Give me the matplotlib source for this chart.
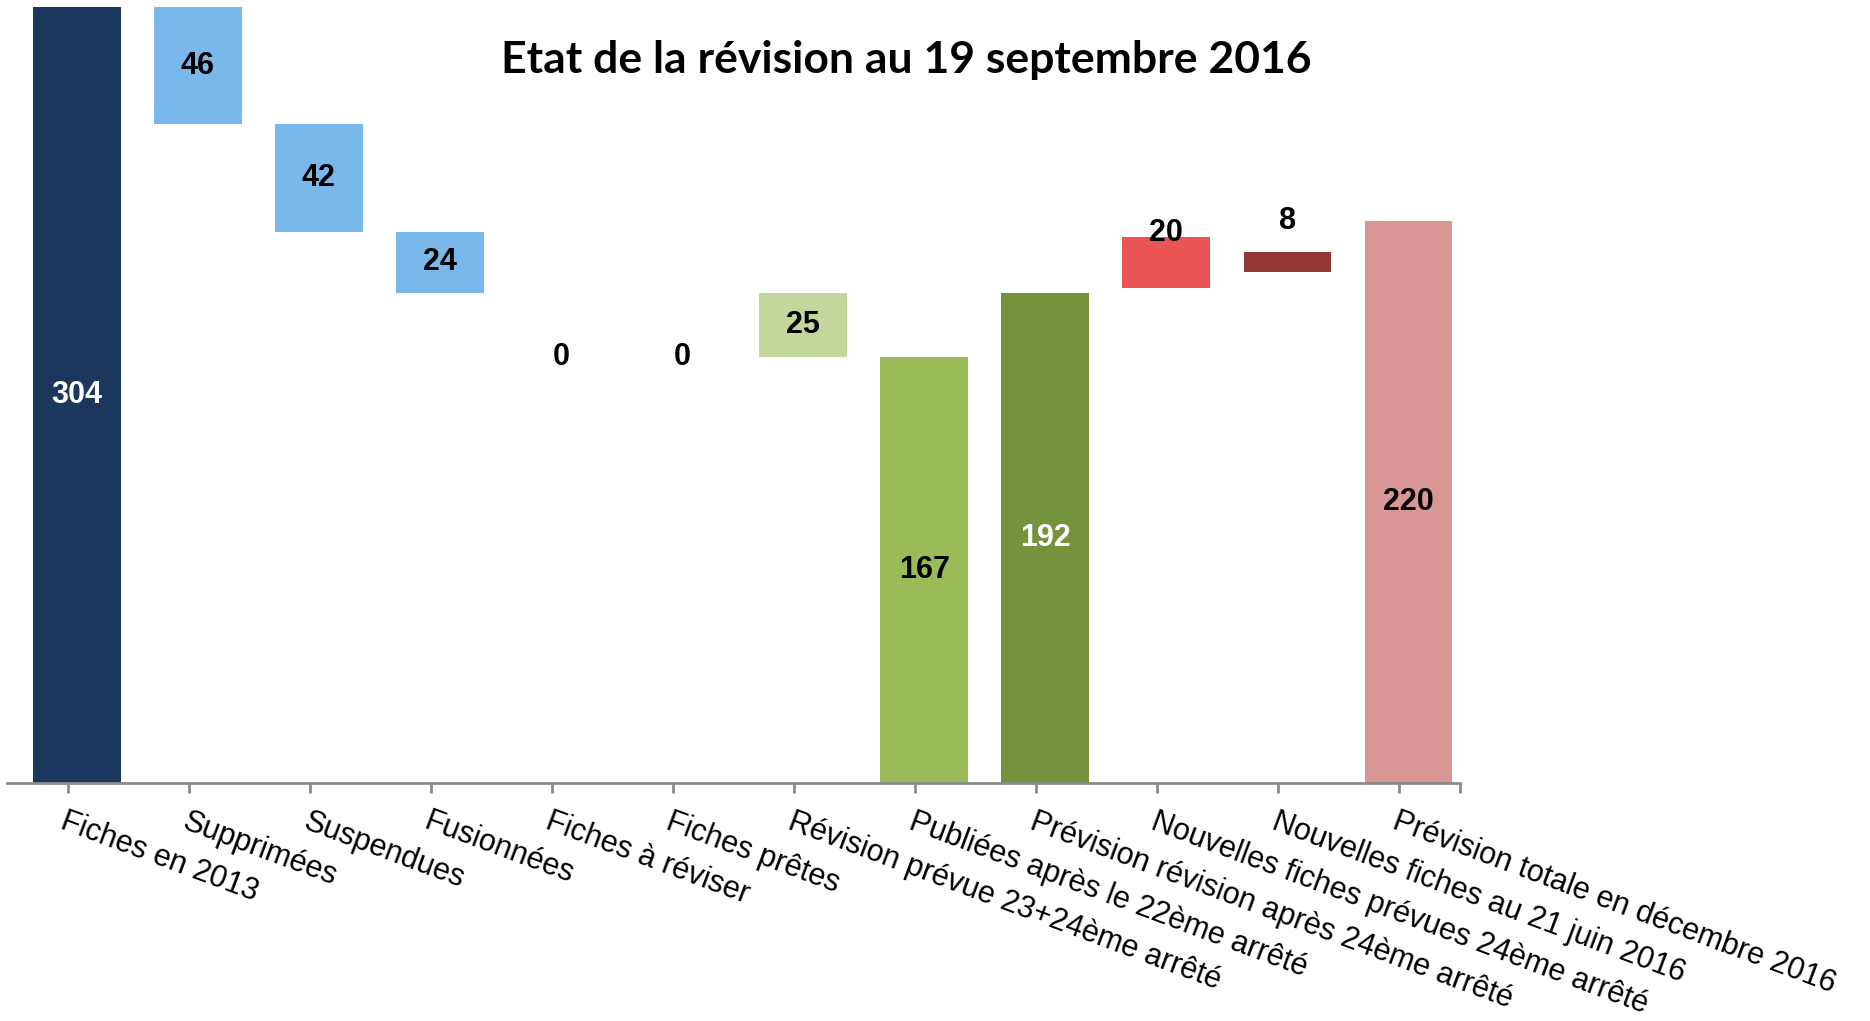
import numpy as np
import matplotlib
matplotlib.use("Agg")
import matplotlib.pyplot as plt

categories = ["Fiches en 2013", "Supprimées", "Suspendues", "Fusionnées",
              "Fiches à réviser", "Fiches prêtes",
              "Révision prévue 23+24ème arrêté",
              "Publiées après le 22ème arrêté",
              "Prévision révision après 24ème arrêté",
              "Nouvelles fiches prévues 24ème arrêté",
              "Nouvelles fiches au 21 juin 2016",
              "Prévision totale en décembre 2016"]
values = [304, 46, 42, 24, 0, 0, 25, 167, 192, 20, 8, 220]
bottoms = [0, 258, 216, 192, 167, 167, 167, 0, 0, 194, 200, 0]
colors = ["#1B375E", "#7AB7EB", "#7AB7EB", "#7AB7EB", "#7AB7EB", "#7AB7EB",
          "#C3D69B", "#9BBB59", "#76923C", "#EB5454", "#953735", "#D99694"]
label_colors = ["white", "black", "black", "black", "black", "black",
                "black", "black", "white", "black", "black", "black"]

fig = plt.figure(figsize=(18.7, 10.21), dpi=100)
ax = fig.add_axes([7 / 1870, 238 / 1021, 1453 / 1870, 776 / 1021])

x = np.arange(len(categories))
ax.bar(x + 0.075, values, bottom=bottoms, width=0.725, color=colors)

for i, (v, b) in enumerate(zip(values, bottoms)):
    y = b + v / 2
    if i == 9:
        y = b + v + 1.5
    elif i == 10:
        y = b + v + 12
    ax.text(i + 0.075, y, str(v), ha="center", va="center", fontsize=22,
            fontweight="bold", color=label_colors[i], family="Liberation Sans")

ax.set_xlim(-0.5, len(categories) - 0.5)
ax.set_ylim(0, 304)
for s in ["top", "right", "left"]:
    ax.spines[s].set_visible(False)
ax.spines["bottom"].set_color("#8C8C8C")
ax.spines["bottom"].set_linewidth(2)
ax.set_yticks([])
ax.set_xticks(x)
ax.set_xticks([len(categories) - 0.5], minor=True)
ax.tick_params(axis="x", which="both", direction="out", length=7, width=2,
               color="#8C8C8C", pad=10)
ax.set_xticklabels(categories, rotation=-20.5, ha="left", va="top",
                   rotation_mode="anchor", fontsize=22, family="Liberation Sans")

fig.text(906 / 1870, 1 - 60 / 1021, "Etat de la révision au 19 septembre 2016",
         ha="center", va="center", fontsize=32, fontweight="bold", family="Lato")

fig.savefig("out.png", dpi=100)
